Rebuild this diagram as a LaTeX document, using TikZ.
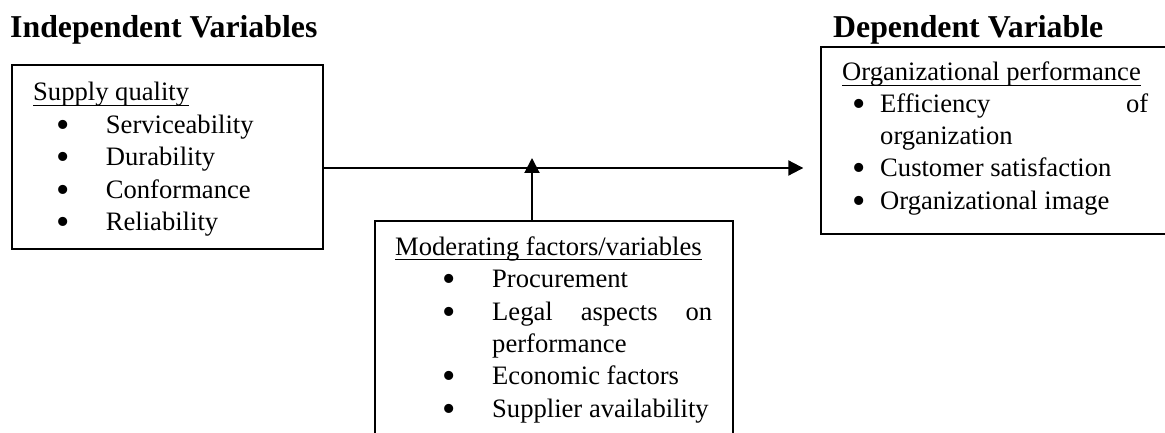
\documentclass[tikz,border=0pt]{standalone}
\usepackage{fontspec}
\usepackage{graphicx}
\setmainfont{Liberation Serif}
\usetikzlibrary{arrows.meta}
\newcommand{\bulletmark}{\smash{\scalebox{1.43}{•}}}
\begin{document}
\begin{tikzpicture}[x=1pt,y=-1pt,
  box/.style={draw, line width=1.4pt, inner sep=0},
  txt/.style={anchor=base west, inner sep=0, font=\fontsize{26.6}{32}\selectfont},
  ttl/.style={anchor=base west, inner sep=0, font=\fontsize{31.8}{36}\selectfont\bfseries},
  bul/.style={anchor=base, inner sep=0, yshift=-4pt, font=\fontsize{26.6}{32}\selectfont},
  conn/.style={line width=2pt, -{Triangle[length=15pt,width=15pt]}},
  ul/.style={line width=1.3pt}]
\useasboundingbox (0,0) rectangle (1165,433);
\clip (0,0) rectangle (1165,433);
% boxes
\node[box, minimum width=311pt, minimum height=184pt] (L) at (167.5,157) {};
\node[box, minimum width=354pt, minimum height=187pt] (R) at (998,140.5) {};
\node[box, minimum width=358pt, minimum height=239pt] (B) at (554,340.5) {};
% titles
\node[ttl] (t1) at (10,38) {Independent Variables};
\node[ttl] (t2) at (833,38) {Dependent Variable};
% left box text
\node[txt] (sq) at (33,101) {Supply quality};
\draw[ul] ([yshift=-4.5pt]sq.base west) -- ([yshift=-4.5pt]sq.base east);
\node[bul] (lb1) at (63,133.4) {\bulletmark};
\node[bul] (lb2) at (63,165.8) {\bulletmark};
\node[bul] (lb3) at (63,198.2) {\bulletmark};
\node[bul] (lb4) at (63,230.6) {\bulletmark};
\node[txt] (l1) at (105.7,133.4) {Serviceability};
\node[txt] (l2) at (105.7,165.8) {Durability};
\node[txt] (l3) at (105.7,198.2) {Conformance};
\node[txt] (l4) at (105.7,230.6) {Reliability};
% right box text
\node[txt] (op) at (842,81) {Organizational performance};
\draw[ul] ([yshift=-4.5pt]op.base west) -- ([yshift=-4.5pt]op.base east);
\node[bul] (rb1) at (859,113) {\bulletmark};
\node[bul] (rb2) at (859,177) {\bulletmark};
\node[bul] (rb3) at (859,209) {\bulletmark};
\node[txt] (r1) at (880,113) {\hbox to 268pt{Efficiency\hfill of}};
\node[txt] (r2) at (880,145) {organization};
\node[txt] (r3) at (880,177) {Customer satisfaction};
\node[txt] (r4) at (880,209) {Organizational image};
% bottom box text
\node[txt] (mf) at (395,255) {Moderating factors/variables};
\draw[ul] ([yshift=-4.5pt]mf.base west) -- ([yshift=-4.5pt]mf.base east);
\node[bul] (bb1) at (449,287.5) {\bulletmark};
\node[bul] (bb2) at (449,320) {\bulletmark};
\node[bul] (bb3) at (449,384.8) {\bulletmark};
\node[bul] (bb4) at (449,417.2) {\bulletmark};
\node[txt] (b1) at (492,287.5) {Procurement};
\node[txt] (b2) at (492,320) {\hbox to 220pt{Legal\hfill aspects\hfill on}};
\node[txt] (b3) at (492,352.4) {performance};
\node[txt] (b4) at (492,384.8) {Economic factors};
\node[txt] (b5) at (492,417.2) {Supplier availability};
% connectors
\coordinate (a) at ([yshift=-11pt]L.east);
\path (R.west) ++(-17,0) coordinate (b0);
\coordinate (b) at (b0 |- a);
\draw[conn] (a) -- (b);
\coordinate (m) at ([xshift=-22pt]B.north);
\path (m |- a) ++(0,-10) coordinate (t);
\draw[conn] (m) -- (t);
\end{tikzpicture}
\end{document}
